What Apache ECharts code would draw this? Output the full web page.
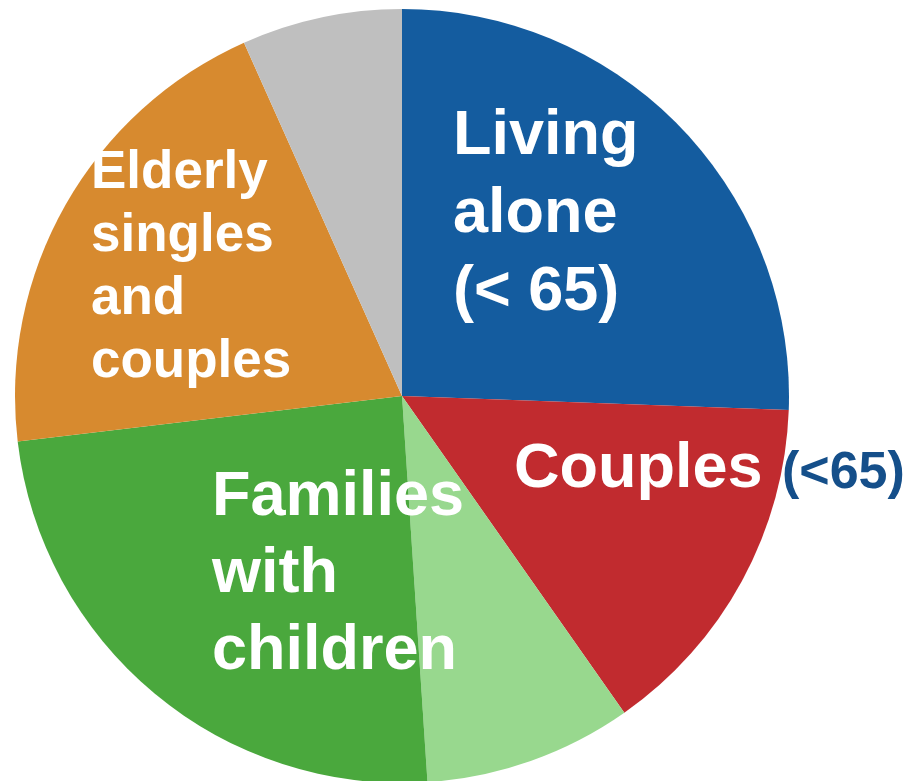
<!DOCTYPE html>
<html>
<head>
<meta charset="utf-8">
<script src="https://cdn.jsdelivr.net/npm/echarts@6/dist/echarts.min.js"></script>
<style>
  html, body { margin: 0; padding: 0; background: #ffffff; }
  #chart { width: 911px; height: 781px; }
</style>
</head>
<body>
<div id="chart"></div>
<script>
// household shares, clockwise from 12 o'clock
const categories = ['Living alone (< 65)', 'Couples (<65)', 'Other families', 'Families with children', 'Elderly singles and couples', 'Other'];
const shares = [25.6, 14.7, 8.7, 24.2, 20.2, 6.7];
const colors = ['#145C9F', '#C12B2F', '#98D88E', '#4AA83D', '#D78A2F', '#BFBFBF'];

const font = 'Liberation Sans, Arial, sans-serif';

const chart = echarts.init(document.getElementById('chart'));

chart.setOption({
  animation: false,
  backgroundColor: '#ffffff',
  series: [{
    type: 'pie',
    z: 1,
    center: [402, 396],
    radius: [0, 387],
    startAngle: 90,
    clockwise: true,
    label: { show: false },
    labelLine: { show: false },
    emphasis: { disabled: true },
    itemStyle: { borderWidth: 0 },
    data: categories.map((name, i) => ({
      name: name,
      value: shares[i],
      itemStyle: { color: colors[i] }
    }))
  }],
  graphic: {
    elements: [
      {
        type: 'text', left: 453, top: 98, z: 100,
        style: { text: 'Living\nalone\n(< 65)', fill: '#fff', font: 'bold 63px ' + font, lineHeight: 78 }
      },
      {
        type: 'text', left: 514, top: 431, z: 100,
        style: { text: 'Couples', fill: '#fff', font: 'bold 63px ' + font, lineHeight: 78 }
      },
      {
        type: 'text', left: 782, top: 441, z: 100,
        style: { text: '(<65)', fill: '#154F8A', font: 'bold 52px ' + font, lineHeight: 66 }
      },
      {
        type: 'text', left: 212, top: 459, z: 100,
        style: { text: 'Families\nwith\nchildren', fill: '#fff', font: 'bold 63px ' + font, lineHeight: 77 }
      },
      {
        type: 'text', left: 91, top: 142, z: 100,
        style: { text: 'Elderly\nsingles\nand\ncouples', fill: '#fff', font: 'bold 53px ' + font, lineHeight: 63 }
      }
    ]
  }
});
</script>
</body>
</html>
